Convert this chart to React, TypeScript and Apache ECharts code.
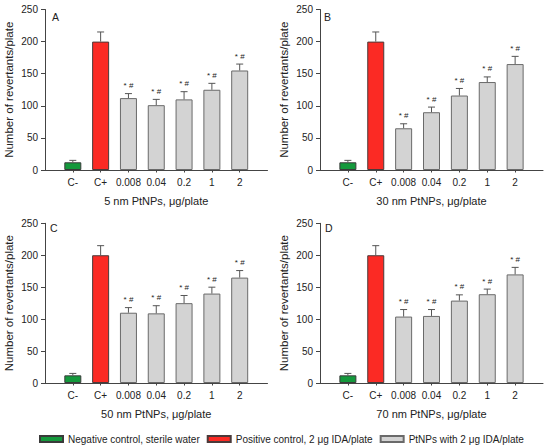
import React, { useEffect, useRef } from 'react';
import * as echarts from 'echarts';

const categories = ['', 'C-', 'C+', '0.008', '0.04', '0.2', '1', '2', ''];
const panelLetters = ['A', 'B', 'C', 'D'];
const xTitles = ['5 nm PtNPs, μg/plate', '30 nm PtNPs, μg/plate', '50 nm PtNPs, μg/plate', '70 nm PtNPs, μg/plate'];
const yTitle = 'Number of revertants/plate';
const legendNames = ['Negative control, sterile water', 'Positive control, 2 μg IDA/plate', 'PtNPs with 2 μg IDA/plate'];

const meansA = [12, 200, 112, 101, 110, 125, 155];
const upperA = [15, 215, 119, 110, 122, 135, 165];
const meansB = [12, 200, 65, 90, 116, 137, 165];
const upperB = [15, 215, 72, 98, 127, 145, 177];
const meansC = [12, 200, 110, 109, 125, 140, 165];
const upperC = [15, 215, 118, 121, 137, 150, 176];
const meansD = [12, 200, 104, 105, 129, 139, 170];
const upperD = [15, 215, 115, 115, 138, 147, 181];
const marks = ['', '', '* #', '* #', '* #', '* #', '* #'];

const panels = [
  { means: meansA, upper: upperA },
  { means: meansB, upper: upperB },
  { means: meansC, upper: upperC },
  { means: meansD, upper: upperD },
];

const FONT = 'Liberation Sans, Arial, sans-serif';
const TEXT = '#222';
const AXIS = '#444';
const COLORS = ['#14993c', '#fb2a24', '#d3d3d3'];

export default function App() {
  const ref = useRef<HTMLDivElement>(null);
  useEffect(() => {
    document.body.style.margin = '0';
    const chart = echarts.init(ref.current!, null, { renderer: 'svg' });
    const grids = [
      { left: 45, top: 9.5, width: 222.5, height: 160.5 },
      { left: 320, top: 9.5, width: 223, height: 160.5 },
      { left: 45, top: 223.3, width: 222.5, height: 159.7 },
      { left: 320, top: 223.3, width: 223, height: 159.7 },
    ];
    const letterPos = [
      [52, 11],
      [324, 11],
      [50, 222],
      [325, 222],
    ];
    const xAxis = grids.map((_, i) => ({
      type: 'category',
      gridIndex: i,
      data: categories,
      boundaryGap: false,
      axisLine: { lineStyle: { color: AXIS, width: 1 } },
      axisTick: { show: true, length: 2.5, interval: (idx: number) => idx >= 1 && idx <= 7, lineStyle: { color: AXIS } },
      axisLabel: { interval: 0, fontSize: 10, color: TEXT, margin: 7, fontFamily: FONT },
      name: xTitles[i],
      nameLocation: 'middle',
      nameGap: 25,
      nameTextStyle: { fontSize: 11, color: TEXT, fontFamily: FONT },
    }));
    const yAxis = grids.map((_, i) => ({
      type: 'value',
      gridIndex: i,
      min: 0,
      max: 250,
      interval: 50,
      axisLine: { show: true, lineStyle: { color: AXIS, width: 1 } },
      axisTick: { show: true, length: 4, lineStyle: { color: AXIS } },
      splitLine: { show: false },
      axisLabel: { fontSize: 10, color: TEXT, margin: 7, fontFamily: FONT },
      name: yTitle,
      nameLocation: 'middle',
      nameGap: 30,
      nameTextStyle: { fontSize: 11.5, color: TEXT, fontFamily: FONT },
    }));
    const series: any[] = [];
    panels.forEach((p, i) => {
      const common = {
        type: 'bar',
        xAxisIndex: i,
        yAxisIndex: i,
        barWidth: 17,
        barGap: '-100%',
      };
      series.push({
        ...common,
        name: legendNames[0],
        data: [[1, p.means[0]]],
        itemStyle: { color: COLORS[0], borderColor: '#3a3a3a', borderWidth: 1 },
      });
      series.push({
        ...common,
        name: legendNames[1],
        data: [[2, p.means[1]]],
        itemStyle: { color: COLORS[1], borderColor: '#4a3a3a', borderWidth: 1 },
      });
      series.push({
        ...common,
        name: legendNames[2],
        data: p.means.slice(2).map((v, k) => [k + 3, v]),
        itemStyle: { color: COLORS[2], borderColor: '#6a6a6a', borderWidth: 1 },
      });
      series.push({
        type: 'custom',
        xAxisIndex: i,
        yAxisIndex: i,
        silent: true,
        z: 5,
        data: p.means.map((v, k) => [k + 1, v, p.upper[k]]),
        renderItem: (params: any, api: any) => {
          const x = api.value(0);
          const p0 = api.coord([x, api.value(1)]);
          const p1 = api.coord([x, api.value(2)]);
          const children: any[] = [
            { type: 'line', shape: { x1: p0[0], y1: p0[1], x2: p1[0], y2: p1[1] }, style: { stroke: '#555', lineWidth: 1 } },
            { type: 'line', shape: { x1: p1[0] - 3.5, y1: p1[1], x2: p1[0] + 3.5, y2: p1[1] }, style: { stroke: '#555', lineWidth: 1 } },
          ];
          const m = marks[params.dataIndex];
          if (m) {
            children.push({
              type: 'text',
              x: p1[0],
              y: p1[1] - 4,
              style: { text: m, fill: TEXT, fontSize: 8, fontFamily: FONT, align: 'center', verticalAlign: 'bottom' },
            });
          }
          return { type: 'group', children };
        },
      });
    });
    chart.setOption({
      animation: false,
      textStyle: { fontFamily: FONT },
      grid: grids,
      xAxis,
      yAxis,
      series,
      legend: {
        data: legendNames,
        left: 34,
        top: 429,
        icon: 'rect',
        itemWidth: 23,
        itemHeight: 6,
        itemGap: 7,
        textStyle: { fontSize: 10, color: TEXT, fontFamily: FONT },
        selectedMode: false,
      },
      graphic: panelLetters.map((l, i) => ({
        type: 'text',
        left: letterPos[i][0],
        top: letterPos[i][1],
        style: { text: l, fontSize: 10.5, fill: TEXT, fontFamily: FONT },
      })),
    });
    return () => chart.dispose();
  }, []);
  return <div ref={ref} style={{ width: 550, height: 445 }} />;
}
